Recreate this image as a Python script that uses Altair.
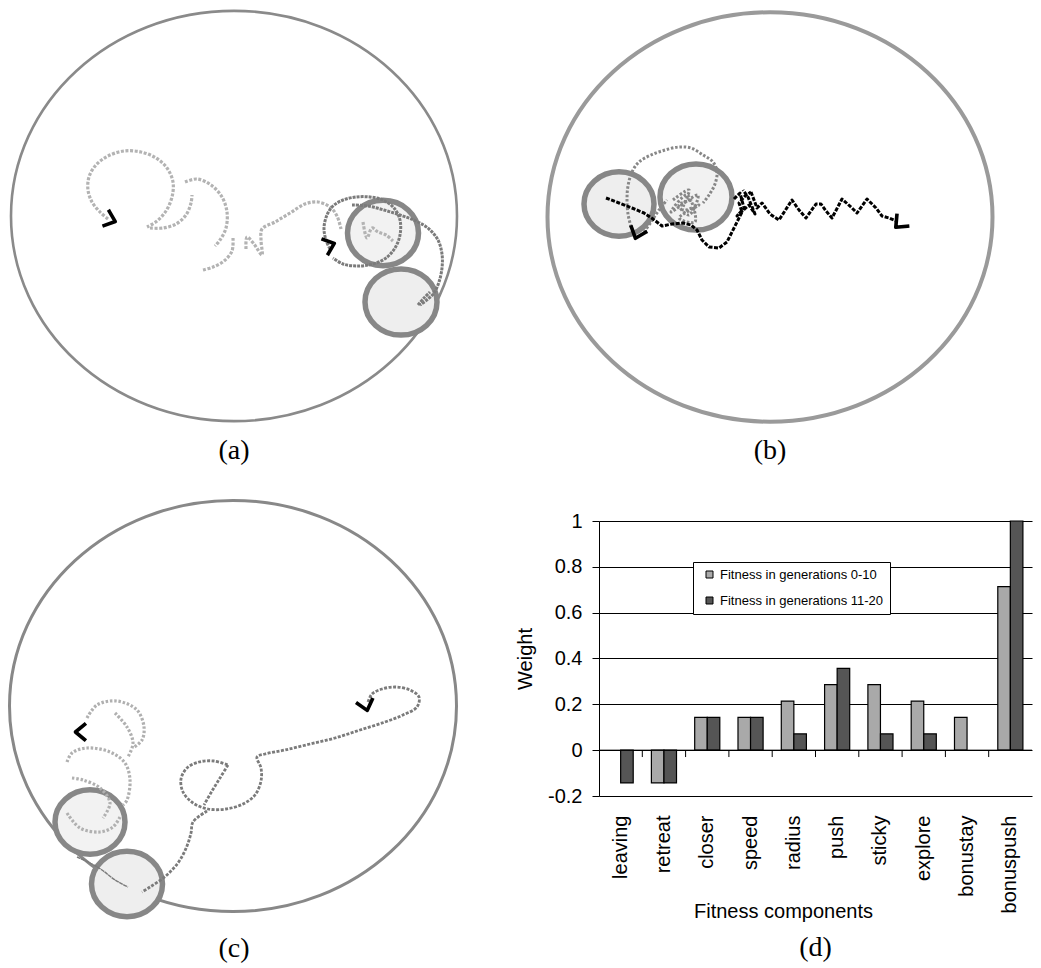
import altair as alt
import pandas as pd

# ---------------- bar chart data (panel d) ----------------
COMPONENTS = ["leaving", "retreat", "closer", "speed", "radius", "push",
              "sticky", "explore", "bonustay", "bonuspush"]
SERIES = ["Fitness in generations 0-10", "Fitness in generations 11-20"]
WEIGHT_EARLY = [None, -0.143, 0.143, 0.143, 0.214, 0.286, 0.286, 0.214, 0.143, 0.714]
WEIGHT_LATE = [-0.143, -0.143, 0.143, 0.143, 0.071, 0.357, 0.071, 0.071, None, 1.0]
Y_TICKS = [-0.2, 0, 0.2, 0.4, 0.6, 0.8, 1]
BAR_COLORS = ["#a9a9a9", "#555555"]

# ---------------- arena panels (a), (b), (c) ----------------
# arena: centre x, centre y, width ; boxes: centre x, centre y, width
A_ARENA = [234, 216, 446]
A_BOX_X = [383, 401]
A_BOX_Y = [233, 302]
A_BOX_W = [71, 72]
A_LIGHT = [
    [(108, 219), (100, 212), (92, 202), (88, 190), (89, 177), (96, 165), (108, 156), (124, 151),
     (141, 152), (156, 158), (167, 168), (173, 182), (172, 197), (166, 211), (157, 221), (147, 227)],
    [(150, 228), (163, 228), (176, 224), (186, 215), (191, 203), (192, 195)],
    [(185, 182), (197, 179), (211, 185), (222, 197), (227, 212), (226, 228), (220, 240), (215, 246)],
    [(233, 238), (232, 251), (224, 261), (213, 267), (203, 270)],
    [(246, 249), (247, 237), (254, 244), (262, 255), (261, 240), (262, 229), (275, 222), (290, 213),
     (305, 204), (318, 202), (330, 207), (337, 216), (341, 229)],
    [(363, 222), (367, 238), (372, 228), (378, 232), (386, 235), (393, 241)],
]
A_DARK = [
    [(330, 249), (326, 240), (324, 228), (327, 215), (333, 206), (343, 200), (356, 197), (370, 197),
     (383, 200), (394, 208), (400, 220), (400, 235), (395, 248), (386, 258), (373, 264), (358, 266),
     (343, 264), (333, 258)],
    [(352, 205), (368, 206), (384, 210), (400, 215), (416, 221), (429, 229), (438, 240), (442, 254),
     (442, 268), (439, 282), (434, 293), (428, 299), (420, 305)],
    [(418, 305), (424, 298), (430, 292)],
]
A_ARROW_X = [111, 330]
A_ARROW_Y = [220, 245]
A_ARROW_ANGLE = [20, 340]

B_ARENA = [771, 217, 445]
B_BOX_X = [620, 697]
B_BOX_Y = [204, 197]
B_BOX_W = [70, 72]
B_BLACK = [
    [(607, 198), (620, 203), (633, 208), (645, 213), (654, 219), (663, 226), (673, 224), (684, 223),
     (692, 225), (698, 230), (703, 240), (710, 247), (720, 248), (728, 242), (733, 232), (738, 222),
     (743, 212), (740, 203), (746, 196), (752, 192)],
    [(752, 192), (758, 208), (763, 203), (771, 214), (780, 220), (793, 200), (800, 210), (807, 218),
     (817, 204), (822, 204), (827, 211), (833, 218), (843, 199), (853, 208), (858, 213), (868, 199),
     (877, 208), (883, 216), (890, 218), (897, 221)],
    [(735, 199), (741, 193), (745, 208), (738, 216), (750, 205), (756, 214), (749, 197), (744, 190)],
]
B_GRAY = [
    [(632, 227), (629, 214), (628, 200), (629, 186), (633, 172), (640, 162), (652, 155), (666, 150),
     (680, 147), (692, 148), (704, 155), (714, 162), (718, 172), (716, 184), (710, 195), (704, 203)],
    [(674, 200), (690, 190), (684, 210), (700, 205), (680, 218), (696, 222), (688, 195), (672, 212),
     (699, 195), (690, 215), (680, 205), (694, 200)],
    [(645, 232), (652, 222), (660, 210), (668, 200)],
]
B_ARROW_X = [638, 900]
B_ARROW_Y = [234, 224]
B_ARROW_ANGLE = [110, 135]

C_ARENA = [233, 706, 447]
C_BOX_X = [90, 127]
C_BOX_Y = [822, 884]
C_BOX_W = [70, 71]
C_LIGHT = [
    [(87, 718), (97, 705), (117, 701), (137, 710), (144, 727), (142, 740), (133, 748)],
    [(115, 713), (127, 727), (133, 743), (128, 757)],
    [(67, 762), (72, 753), (87, 748), (110, 752), (125, 763), (130, 780), (127, 800), (123, 805)],
    [(72, 778), (83, 780), (100, 788), (110, 803), (103, 818)],
    [(67, 813), (80, 828), (100, 832), (113, 827), (120, 817)],
]
C_DARK = [
    [(368, 702), (372, 694), (382, 689), (396, 687), (410, 690), (419, 697), (417, 707), (403, 715),
     (385, 722), (360, 730), (335, 738), (310, 744), (285, 750), (265, 754), (257, 757), (261, 768),
     (261, 781), (255, 795), (243, 804), (226, 809), (208, 809), (193, 803), (183, 792), (181, 779),
     (187, 768), (199, 762), (214, 761), (228, 765)],
    [(228, 765), (220, 778), (212, 791), (204, 805)],
    [(207, 811), (193, 822), (191, 833), (187, 846), (180, 860), (172, 870), (162, 879), (150, 887),
     (142, 892)],
]
C_THIN = [[(77, 857), (90, 863), (102, 870), (115, 880), (128, 887)]]
C_ARROW_X = [80, 366]
C_ARROW_Y = [732, 706]
C_ARROW_ANGLE = [180, 75]

# ---------------- shapes / styles ----------------
K = 0.92
ELLIPSE = ("M-1,0C-1,-{a},-0.5523,-{k},0,-{k}C0.5523,-{k},1,-{a},1,0"
           "C1,{a},0.5523,{k},0,{k}C-0.5523,{k},-1,{a},-1,0Z").format(a=round(0.5523 * K, 4), k=K)
CHEVRON = "M-0.6,-1L0.6,0L-0.6,1"
SERIF = "Liberation Serif"
SANS = "Liberation Sans"
BAR_WIDTH = 433
PAD_INNER = 0.42


def seg_df(segs):
    rows = []
    for s, seg in enumerate(segs):
        for i, (x, y) in enumerate(seg):
            rows.append({"seg": s, "i": i, "x": x, "y": y})
    return pd.DataFrame(rows)


def arena_panel(frame, arena, arena_style, box_x, box_y, box_w, box_fills,
                trails, arrow_x, arrow_y, arrow_a, caption):
    x0, x1, y0, y1 = frame
    X = alt.X("x:Q", scale=alt.Scale(domain=[x0, x1], nice=False, zero=False), axis=None)
    Y = alt.Y("y:Q", scale=alt.Scale(domain=[y0, y1], nice=False, zero=False, reverse=True), axis=None)
    arena_df = pd.DataFrame({"x": [arena[0]], "y": [arena[1]], "s": [arena[2] ** 2]})
    box_df = pd.DataFrame({"x": box_x, "y": box_y, "s": [w * w for w in box_w], "f": box_fills})
    arrow_df = pd.DataFrame({"x": arrow_x, "y": arrow_y, "a": arrow_a})
    layers = [
        alt.Chart(arena_df).mark_point(shape=ELLIPSE, filled=False, color=arena_style[0],
                                       strokeWidth=arena_style[1], opacity=1, strokeJoin="round")
        .encode(x=X, y=Y, size=alt.Size("s:Q", scale=None)),
        alt.Chart(box_df).mark_point(shape=ELLIPSE, filled=True, stroke="#878787",
                                     strokeWidth=5.5, opacity=1, strokeJoin="round")
        .encode(x=X, y=Y, size=alt.Size("s:Q", scale=None), fill=alt.Fill("f:N", scale=None)),
    ]
    for segs, color, width, dash, interp in trails:
        layers.append(
            alt.Chart(seg_df(segs)).mark_line(color=color, strokeWidth=width, strokeDash=dash,
                                              strokeCap="butt", interpolate=interp, opacity=1,
                                              strokeJoin="round")
            .encode(x=X, y=Y, detail="seg:N", order="i:Q"))
    layers.append(
        alt.Chart(arrow_df).mark_point(shape=CHEVRON, filled=False, color="black", strokeWidth=3.6,
                                       size=230, opacity=1, strokeCap="square", strokeJoin="round")
        .encode(x=X, y=Y, angle=alt.Angle("a:Q", scale=None)))
    return alt.layer(*layers).properties(
        width=x1 - x0, height=y1 - y0,
        title=alt.TitleParams(caption, orient="bottom", font=SERIF, fontSize=28, frame="group",
                              fontWeight="normal", color="black", offset=7))


panel_a = arena_panel(
    [8, 460, 8, 430], A_ARENA, ("#8a8a8a", 2.6), A_BOX_X, A_BOX_Y, A_BOX_W,
    ["#f2f2f2", "#eeeeee"],
    [(A_LIGHT, "#b3b3b3", 3.2, [3, 1.6], "catmull-rom"),
     (A_DARK, "#7b7b7b", 3.0, [3, 1], "catmull-rom")],
    A_ARROW_X, A_ARROW_Y, A_ARROW_ANGLE, "(a)")

# the plot area of (b) starts where the plot area of (d) starts (x = 600) and is centred on 771
panel_b = arena_panel(
    [600, 942, 8, 430], B_ARENA, ("#9a9a9a", 4), B_BOX_X, B_BOX_Y, B_BOX_W,
    ["#eeeeee", "#f2f2f2"],
    [(B_GRAY, "#878787", 3.0, [2.5, 1.8], "catmull-rom"),
     (B_BLACK, "black", 3.0, [4, 1.5], "linear")],
    B_ARROW_X, B_ARROW_Y, B_ARROW_ANGLE, "(b)")

panel_c = arena_panel(
    [8, 460, 470, 928], C_ARENA, ("#888888", 3), C_BOX_X, C_BOX_Y, C_BOX_W,
    ["#f2f2f2", "#eeeeee"],
    [(C_LIGHT, "#b0b0b0", 3.2, [2.5, 1.8], "catmull-rom"),
     (C_DARK, "#7b7b7b", 2.8, [3, 1.5], "catmull-rom"),
     (C_THIN, "#7b7b7b", 1.4, [4, 0.5], "catmull-rom")],
    C_ARROW_X, C_ARROW_Y, C_ARROW_ANGLE, "(c)")

# ---------------- panel (d): bar chart ----------------
bar_rows = []
for comp, e, l in zip(COMPONENTS, WEIGHT_EARLY, WEIGHT_LATE):
    if e is not None:
        bar_rows.append({"component": comp, "series": SERIES[0], "weight": e})
    if l is not None:
        bar_rows.append({"component": comp, "series": SERIES[1], "weight": l})
bar_df = pd.DataFrame(bar_rows)

XSCALE = alt.Scale(domain=COMPONENTS, paddingInner=PAD_INNER, paddingOuter=PAD_INNER / 2)
YSCALE = alt.Scale(domain=[-0.2, 1], nice=False, zero=False)

bars = alt.Chart(bar_df).mark_bar(stroke="black", strokeWidth=1.2, opacity=1).encode(
    x=alt.X("component:N", sort=COMPONENTS, scale=XSCALE,
            axis=alt.Axis(title="Fitness components", labelAngle=270, labelFont=SANS,
                          labelFontSize=20, labelColor="black", labelPadding=19, ticks=False,
                          tickSize=0, domain=False, titleFont=SANS, titleFontSize=20,
                          titleFontWeight="normal", titleColor="black", titleX=184, titleY=105)),
    xOffset=alt.XOffset("series:N", sort=SERIES, scale=alt.Scale(paddingInner=0, paddingOuter=0)),
    y=alt.Y("weight:Q", scale=YSCALE,
            axis=alt.Axis(values=Y_TICKS, title="Weight",
                          labelExpr="datum.value < 0 ? '-' + format(-datum.value, '~g') : format(datum.value, '~g')",
                          grid=True, gridColor="black", gridWidth=1, gridOpacity=1,
                          domainColor="black", domainWidth=1, tickColor="black", tickSize=7,
                          tickWidth=1, labelFont=SANS, labelFontSize=20, labelColor="black",
                          labelPadding=10, titleFont=SANS, titleFontSize=20,
                          titleFontWeight="normal", titleColor="black", titlePadding=12)),
    color=alt.Color("series:N", sort=SERIES, scale=alt.Scale(domain=SERIES, range=BAR_COLORS),
                    legend=alt.Legend(title=None, orient="none", legendX=94, legendY=41,
                                      fillColor="white", strokeColor="black", padding=6,
                                      symbolType="square", symbolSize=49,
                                      symbolStrokeColor="black", symbolStrokeWidth=1,
                                      labelFont=SANS, labelFontSize=13, labelColor="black",
                                      labelLimit=400, rowPadding=12, labelOffset=4,
                                      symbolOffset=4, cornerRadius=0)),
)

zero_df = pd.DataFrame({"w": [0]})
zero_line = alt.Chart(zero_df).mark_rule(color="black", strokeWidth=1).encode(
    y=alt.Y("w:Q", scale=YSCALE))

# small ticks hanging below the zero line, at the boundaries between categories
step = BAR_WIDTH / len(COMPONENTS)
tick_df = pd.DataFrame({"component": COMPONENTS[1:], "w0": [0] * 9, "w1": [-0.03] * 9})
zero_ticks = alt.Chart(tick_df).mark_rule(color="black", strokeWidth=1,
                                          xOffset=-PAD_INNER / 2 * step).encode(
    x=alt.X("component:N", sort=COMPONENTS, scale=XSCALE, bandPosition=0),
    y=alt.Y("w0:Q", scale=YSCALE),
    y2="w1:Q",
)

panel_d = alt.layer(bars, zero_line, zero_ticks).properties(
    width=BAR_WIDTH, height=275,
    title=alt.TitleParams("(d)", orient="bottom", font=SERIF, fontSize=28,
                          fontWeight="normal", color="black", offset=13))

col1 = alt.vconcat(panel_a, panel_c, spacing=5)
col2 = alt.vconcat(panel_b, panel_d, spacing=46).resolve_scale(color="independent")
chart = (alt.hconcat(col1, col2, spacing=55)
         .resolve_scale(color="independent")
         .properties(padding=0)
         .configure_view(stroke=None))

chart.save("out.html", embed_options={"renderer": "svg", "actions": False})
